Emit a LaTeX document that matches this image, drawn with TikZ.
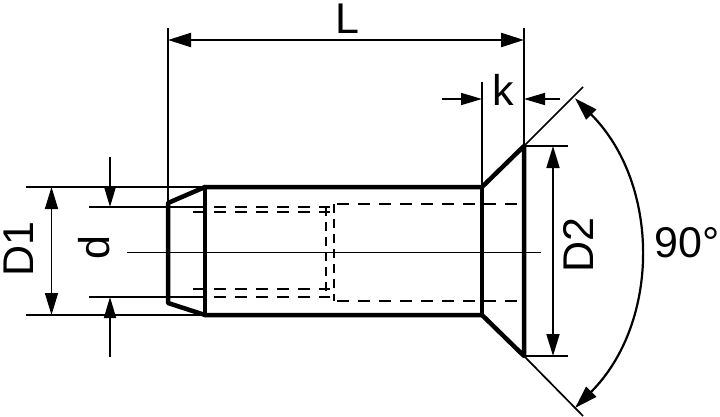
\documentclass[tikz,border=0pt]{standalone}
\usepackage{fontspec}
\setmainfont{Liberation Sans}
\usetikzlibrary{arrows.meta}

\begin{document}
\begin{tikzpicture}[x=1pt, y=-1pt,
		o/.style={line width=4.5pt, line cap=round, line join=round},
		t/.style={line width=1.7pt},
		h/.style={line width=1.7pt, dash pattern=on 12pt off 9pt},
		hv/.style={line width=1.7pt, dash pattern=on 9pt off 6pt},
		m/.style={line width=1.7pt, -{Triangle[length=21pt, width=12pt]}},
		mm/.style={line width=1.7pt, {Triangle[length=22pt, width=13pt]}-{Triangle[length=22pt, width=13pt]}},
		a/.style={line width=2.2pt, {Triangle[length=23pt, width=14pt]}-{Triangle[length=23pt, width=14pt]}},
		l/.style={font=\fontsize{43}{43}\selectfont, inner sep=0pt}]
		\useasboundingbox (0,0) rectangle (720,417);

		\coordinate (A) at (168,203);
		\coordinate (B) at (205,187);
		\coordinate (C) at (482,187);
		\coordinate (D) at (524,146);
		\coordinate (E) at (524,356);
		\coordinate (F) at (482,315);
		\coordinate (G) at (205,315);
		\coordinate (H) at (168,303);
		\coordinate (P) at (575,408);

		% outline
		\draw[o] (A) -- (B) -- (C) -- (D) -- (E) -- (F) -- (G) -- (H) -- cycle;
		\draw[o] (B) -- (G);
		\draw[o] (C) -- (F);

		% axis
		\draw[t] (127,252.5) -- (541,252.5);

		% hidden edges
		\draw[t] (193,212) -- (205,212);
		\draw[t] (193,289) -- (205,289);
		\draw[h] (214,207) -- (330,207);
		\draw[h] (214,212) -- (330,212);
		\draw[h] (214,289) -- (330,289);
		\draw[h] (214,297) -- (330,297);
		\draw[h] (337,204) -- (522,204);
		\draw[h] (337,301) -- (522,301);
		\draw[hv] (326,207) -- (326,297);
		\draw[hv] (334,204) -- (334,301);

		% extension lines
		\draw[t] (26,187) -- (B);
		\draw[t] (26,315) -- (G);
		\draw[t] (89,207) -- (205,207);
		\draw[t] (89,297) -- (205,297);
		\draw[t] (168,28) -- (A);
		\draw[t] (524,28) -- (D);
		\draw[t] (482,82) -- (C);
		\draw[t] (D) -- (568,146);
		\draw[t] (E) -- (568,356);
		\draw[t] (D) -- (583,87);
		\draw[t] (E) -- (583,416);

		% dimensions
		\draw[a] (168,40) -- (524,40);
		\draw[mm] (51.5,187) -- (51.5,315);
		\draw[mm] (553,146) -- (553,356);
		\draw[m] (110,157) -- (110,207);
		\draw[m] (110,357) -- (110,297);
		\draw[m] (442,99) -- (482,99);
		\draw[m] (560,99) -- (524,99);
		\draw[a] (P) arc[start angle=-45, end angle=45, radius=219pt];

		\node[l] (L_label) at (347,19) {L};
		\node[l] (k_label) at (503,90) {k};
		\node[l, rotate=90] (D1_label) at (19,249) {D1};
		\node[l, rotate=90] (d_label) at (94,248) {d};
		\node[l, rotate=90] (D2_label) at (578,245) {D2};
		\node[l] (angle_label) at (687,243) {90°};
\end{tikzpicture}
\end{document}
